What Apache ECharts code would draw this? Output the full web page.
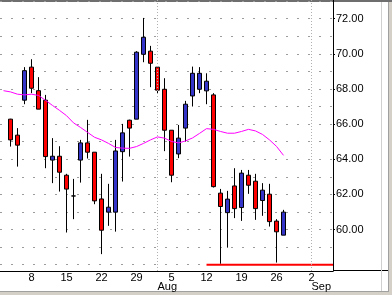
<!DOCTYPE html>
<html>
<head>
<meta charset="utf-8">
<script src="https://cdn.jsdelivr.net/npm/echarts@6/dist/echarts.min.js"></script>
<style>
html,body{margin:0;padding:0;background:#fff;}
#c{width:392px;height:295px;}
</style>
</head>
<body>
<div id="c"></div>
<script>
// ---- data (trading-day slots; slot 4 = Jul 8) ----
const candleSlots = [1,2,3,4,5,6,7,8,9,10,11,12,13,14,15,16,17,18,19,20,21,22,23,24,25,26,27,28,29,30,31,32,33,34,35,36,37,38,39,40];
const opens  = [66.28,65.37,67.36,69.24,67.90,67.36,63.95,64.17,63.09,61.91,63.95,64.93,64.40,61.74,60.99,60.99,64.43,66.22,66.28,69.97,70.15,69.24,67.98,65.65,64.30,65.77,67.60,67.98,67.89,67.66,62.07,60.96,62.48,61.25,63.09,62.75,61.65,62.01,60.48,59.68];
const closes = [65.10,64.80,69.04,68.04,66.85,64.15,64.17,63.26,62.30,61.91,64.93,64.40,61.63,59.96,61.27,64.47,65.50,65.77,70.09,70.94,69.46,67.93,65.65,63.09,65.20,67.13,68.89,68.89,68.44,62.44,61.31,61.73,61.19,63.21,62.52,61.19,62.24,60.45,59.87,60.99];
const lows   = [64.72,63.58,67.13,67.76,66.85,63.49,62.64,62.16,59.83,60.59,62.67,64.04,61.44,58.60,60.21,59.88,62.73,64.15,66.28,69.52,68.10,67.76,64.46,62.69,64.06,65.00,67.00,67.76,67.13,62.39,58.05,58.97,60.65,60.49,62.03,60.55,60.78,60.17,58.12,59.68];
const highs  = [66.30,65.77,69.24,69.69,68.67,67.66,65.20,64.74,63.17,62.88,65.10,66.24,64.40,63.17,62.60,65.10,66.01,66.25,70.15,72.04,70.45,69.26,68.61,65.65,65.95,67.32,69.27,69.24,68.89,67.76,62.31,62.20,63.49,63.39,63.39,63.17,62.64,62.60,60.59,61.12];

const maSlots = [0,1,2,3,4,5,6,7,8,9,10,11,12,13,14,15,16,17,18,19,20,21,22,23,24,25,26,27,28,29,30,31,32,33,34,35,36,37,38,39,40];
const maValues = [67.90,67.83,67.70,67.66,67.70,67.63,67.35,67.06,66.78,66.48,66.07,65.81,65.53,65.25,65.10,64.90,64.67,64.63,64.62,64.72,64.90,65.10,65.27,65.20,65.01,64.93,65.04,65.21,65.47,65.74,65.70,65.58,65.48,65.48,65.58,65.70,65.61,65.41,65.10,64.73,64.22];

const supportLevel = 58.0;
const supportStartSlot = 29;

const mondaySlots = [4,9,14,19,24,29,34,39,44];
const dayLabels = ['8','15','22','29','5','12','19','26','2'];
const monthStartSlots = [22,44];
const monthLabels = ['Aug','Sep'];

const yLabelValues = [60,62,64,66,68,70,72];
const yGridValues = [58,59,60,61,62,63,64,65,66,67,68,69,70,71,72,73];

// ---- axis ranges ----
const X_MIN = -0.5, X_MAX = 47.07;
const Y_MIN = 57.64, Y_MAX = 73.06;

const UP = '#3434c8', DOWN = '#ff0000';
const FONT = 'Liberation Sans, Arial, sans-serif';

const chart = echarts.init(document.getElementById('c'), null, {renderer:'canvas'});
const candleData = candleSlots.map((s,i)=>[s, opens[i], closes[i], lows[i], highs[i]]);
const maData = maSlots.map((s,i)=>[s, maValues[i]]);

chart.setOption({
  animation:false,
  backgroundColor:'#ffffff',
  grid:{left:0, top:0, right:59, bottom:24, containLabel:false, outerBoundsMode:'none'},
  xAxis:[{
    type:'value', min:X_MIN, max:X_MAX, position:'bottom',
    axisLine:{show:true, onZero:false, lineStyle:{color:'#000', width:1}},
    axisTick:{show:false},
    splitLine:{show:false},
    axisLabel:{customValues:mondaySlots, margin:1, color:'#000', fontSize:11, fontFamily:FONT,
      formatter:v=>{const i=mondaySlots.indexOf(Math.round(v)); return i>=0?dayLabels[i]:'';}}
  },{
    type:'value', min:X_MIN, max:X_MAX, position:'bottom',
    axisLine:{show:false, onZero:false}, axisTick:{show:false}, splitLine:{show:false},
    axisLabel:{customValues:monthStartSlots, margin:10, align:'left', color:'#000', fontSize:11, fontFamily:FONT,
      formatter:v=>{const i=monthStartSlots.indexOf(Math.round(v)); return i>=0?monthLabels[i]:'';}}
  }],
  yAxis:[{
    type:'value', min:Y_MIN, max:Y_MAX, position:'right',
    axisLine:{show:true, onZero:false, lineStyle:{color:'#000', width:1}},
    axisTick:{show:false, customValues:yGridValues},
    splitLine:{show:true, lineStyle:{color:'#9c9c9c', width:1, type:[2,9]}},
    axisLabel:{customValues:yLabelValues, margin:3, color:'#000', fontSize:11, fontFamily:FONT,
      formatter:v=>v.toFixed(2)}
  },{
    type:'value', min:Y_MIN, max:Y_MAX, position:'right',
    axisLine:{show:false, onZero:false},
    axisTick:{show:true, length:2, inside:false, customValues:yLabelValues, lineStyle:{color:'#000'}},
    splitLine:{show:false},
    axisLabel:{show:false}
  }],
  series:[{
    type:'candlestick', layout:'horizontal', xAxisIndex:0, yAxisIndex:0,
    data:candleData, barWidth:4,
    itemStyle:{color:UP, color0:DOWN, borderColor:'#000', borderColor0:'#000', borderColorDoji:'#000', borderWidth:1}
  },{
    type:'line', xAxisIndex:0, yAxisIndex:0, data:maData, showSymbol:false, symbol:'none',
    lineStyle:{color:'#ff00ff', width:1}, z:3,
    markLine:{silent:true, symbol:['none','none'], label:{show:false},
      lineStyle:{color:'#b0b0b0', width:1, type:[1,2]},
      data:monthStartSlots.map(s=>({xAxis:s}))}
  },{
    type:'line', xAxisIndex:0, yAxisIndex:0, showSymbol:false, symbol:'none',
    data:[[supportStartSlot, supportLevel],[X_MAX, supportLevel]],
    lineStyle:{color:'#ff0000', width:2}, z:4
  }],
  graphic:[
    {type:'rect', shape:{x:0,y:0,width:392,height:2}, style:{fill:'#6e6e6e'}, silent:true},
    {type:'line', shape:{x1:333,y1:270.5,x2:388,y2:270.5}, style:{stroke:'#000',lineWidth:1}, silent:true},
    {type:'line', shape:{x1:381.5,y1:2,x2:381.5,y2:291}, style:{stroke:'#d0d0d0',lineWidth:1}, silent:true},
    {type:'line', shape:{x1:388.5,y1:2,x2:388.5,y2:292}, style:{stroke:'#a0a0a0',lineWidth:1}, silent:true},
    {type:'rect', shape:{x:389,y:2,width:3,height:293}, style:{fill:'#d4d0c8'}, silent:true},
    {type:'line', shape:{x1:0,y1:291.5,x2:389,y2:291.5}, style:{stroke:'#a0a0a0',lineWidth:1}, silent:true},
    {type:'rect', shape:{x:0,y:292,width:392,height:3}, style:{fill:'#d4d0c8'}, silent:true}
  ]
});
</script>
</body>
</html>
